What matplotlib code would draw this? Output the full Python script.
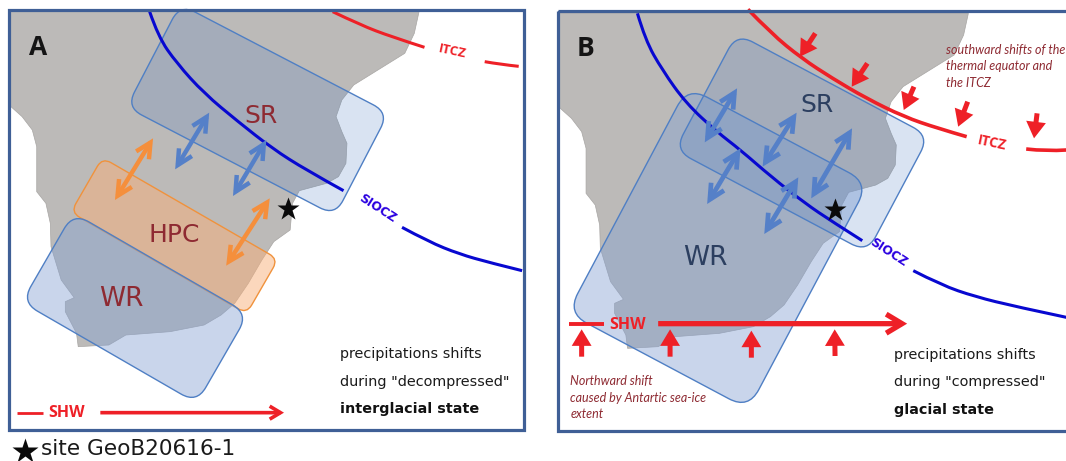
"""Two panel schematic of precipitation shifts over southern Africa (A interglacial, B glacial)."""
import matplotlib
matplotlib.use("Agg")
import matplotlib.pyplot as plt
from matplotlib.patches import FancyBboxPatch, FancyArrowPatch, PathPatch, Polygon, Rectangle
from matplotlib.path import Path
from matplotlib.transforms import Affine2D

LAND_X = [30, 1232, 1218, 1190, 1040, 1005, 988, 1005, 1020, 1017, 995, 960, 880, 860, 853, 805, 770, 730,
          690, 650, 600, 500, 370, 320, 230, 225, 192, 192, 218, 180, 150, 148, 135, 108, 108, 95, 65, 30]
LAND_Y = [35, 35, 100, 160, 255, 300, 350, 395, 430, 490, 530, 550, 572, 610, 690, 725, 780, 850,
          910, 945, 975, 995, 1005, 1035, 1040, 1000, 935, 905, 893, 840, 740, 670, 610, 575, 440, 390, 350, 318]

SIOCZ_A = [[(440, 35), (465, 110), (520, 190), (600, 280), (700, 365), (800, 445), (900, 510), (1010, 572)],
           [(1182, 682), (1260, 725), (1350, 762), (1440, 788), (1535, 812)]]
ITCZ_A = [[(978, 35), (1060, 75), (1150, 110), (1248, 142)],
          [(1425, 185), (1470, 193), (1525, 199)]]
SIOCZ_B = [[(307, 40), (330, 120), (380, 210), (450, 310), (540, 395), (610, 450), (700, 530), (800, 610),
            (880, 665), (968, 722)],
           [(1118, 812), (1200, 855), (1300, 890), (1420, 920), (1568, 952)]]
ITCZ_B = [[(632, 28), (700, 100), (790, 175), (880, 235), (980, 295), (1090, 350), (1190, 385), (1275, 410)],
          [(1450, 447), (1510, 454), (1568, 450)]]

BLUE_ARROWS_A = [((615, 338), (515, 508)), ((783, 420), (685, 588))]
ORANGE_ARROWS_A = [((450, 415), (338, 600)), ((793, 595), (665, 797))]
BLUE_ARROWS_B = [((600, 265), (505, 427)), ((775, 338), (675, 500)), ((938, 385), (818, 595)),
                 ((610, 445), (512, 612)), ((780, 532), (680, 702))]
DOWN_ARROWS_B = [((830, 100), (785, 170)), ((983, 190), (937, 260)), ((1120, 260), (1090, 330)),
                 ((1278, 305), (1250, 380)), ((1482, 340), (1473, 415))]
UP_ARROWS_B = [((143, 1070), (143, 988)), ((403, 1070), (403, 988)), ((642, 1073), (642, 992)),
               ((888, 1068), (887, 988))]

LAND_C = "#bcbab8"
WR_FACE, SR_FACE, BOX_EDGE = "#84a1d3", "#4c7cc3", "#4f7fc4"
HPC_FACE, HPC_EDGE = "#f8b07a", "#f0923c"
ARROW_BLUE, ARROW_ORANGE = "#5580c8", "#f58f3c"
RED, NAVY = "#ee2027", "#0808d0"
DARK_RED, SLATE = "#8e2a32", "#2c3f60"
FRAME_C = "#3f5f96"

B_SHIFT = 533
SX, SY = 2.94, 3.0


def to_px(pt, off=0):
    return (off + pt[0]/SX, pt[1]/SY)


fig = plt.figure(figsize=(10.66, 4.61), dpi=100)
ax = fig.add_axes([0, 0, 1, 1])
ax.set_xlim(0, 1066)
ax.set_ylim(461, 0)
ax.axis("off")


def rbox(cx, cy, w, h, angle, r, face, edge, alpha=0.44, z=3):
    tr = Affine2D().rotate_deg(angle).translate(cx, cy) + ax.transData
    ax.add_patch(FancyBboxPatch((-w/2, -h/2), w, h, boxstyle=f"round,pad=0,rounding_size={r}",
                                fc=(*matplotlib.colors.to_rgb(face), alpha), ec=edge, lw=1.0,
                                transform=tr, zorder=z))


def curve(segments, off, color, lw=2.2):
    # quadratic spline through the midpoints, so the fronts do not look kinked
    for seg in segments:
        p = [to_px(q, off) for q in seg]
        verts, codes = [p[0]], [Path.MOVETO]
        for i in range(1, len(p) - 1):
            end = p[i+1] if i == len(p) - 2 else ((p[i][0]+p[i+1][0])/2, (p[i][1]+p[i+1][1])/2)
            verts += [p[i], end]
            codes += [Path.CURVE3, Path.CURVE3]
        if len(p) == 2:
            verts.append(p[1])
            codes.append(Path.LINETO)
        ax.add_patch(PathPatch(Path(verts, codes), fc="none", ec=color, lw=lw, capstyle="butt", zorder=6))


def arrow(a, b, off, color, style, lw, scale=1.0, z=7):
    ax.add_patch(FancyArrowPatch(to_px(a, off), to_px(b, off), arrowstyle=style, color=color, lw=lw,
                                 mutation_scale=scale, shrinkA=0, shrinkB=0, joinstyle="miter",
                                 capstyle="butt", zorder=z))


def label(pt, s, off=0, **kw):
    x, y = to_px(pt, off)
    kw.setdefault("ha", "center")
    kw.setdefault("va", "center")
    ax.text(x, y, s, zorder=9, **kw)


DOUBLE = "<->,head_length=0.72,head_width=0.36"
SINGLE = "-|>,head_length=0.6,head_width=0.36"
SHW_HEAD = "->,head_length=0.6,head_width=0.36"

# ---- panel A ----
ax.add_patch(Polygon([to_px(p) for p in zip(LAND_X, LAND_Y)], fc=LAND_C, ec="#a8a6a4", lw=0.5, zorder=1))
rbox(174.5, 235.7, 203, 63, 30, 10, HPC_FACE, HPC_EDGE, alpha=0.5, z=3)
rbox(135, 308, 202, 103, 30, 18, WR_FACE, BOX_EDGE, z=4)
rbox(257.6, 110, 235, 116, 27.5, 17, SR_FACE, BOX_EDGE, alpha=0.21, z=4)
curve(SIOCZ_A, 0, NAVY)
curve(ITCZ_A, 0, RED)
for a, b in BLUE_ARROWS_A:
    arrow(a, b, 0, ARROW_BLUE, DOUBLE, 3.2, 15)
for a, b in ORANGE_ARROWS_A:
    arrow(a, b, 0, ARROW_ORANGE, DOUBLE, 3.2, 15)
curve([[(50, 1238), (125, 1238)]], 0, RED, 2.0)
arrow((295, 1238), (835, 1238), 0, RED, SHW_HEAD, 2.6, 13)
label((195, 1240), "SHW", color=RED, fontsize=11.5, fontweight="bold", family="Open Sans")
label((1330, 155), "ITCZ", color=RED, fontsize=9.5, fontweight="bold", rotation=-12, family="Open Sans")
label((1110, 625), "SIOCZ", color="#2a00e0", fontsize=8.8, rotation=-33, family="DejaVu Sans", fontweight="bold")
label((113, 142), "A", color="#141414", fontsize=19, fontweight="bold", family="Open Sans")
label((767, 347), "SR", color=DARK_RED, fontsize=18, family="DejaVu Sans")
label((511, 704), "HPC", color=DARK_RED, fontsize=18, family="DejaVu Sans")
label((358, 898), "WR", color=DARK_RED, fontsize=19, family="DejaVu Sans")
ax.plot(*to_px((846, 627)), marker="*", ms=17, color="#0a0a0a", mec="none", zorder=8)
label((1000, 1062), "precipitations shifts", ha="left", fontsize=10.4, color="#1a1a1a")
label((1000, 1145), 'during "decompressed"', ha="left", fontsize=10.4, color="#1a1a1a")
label((1000, 1227), "interglacial state", ha="left", fontsize=10.4, fontweight="bold", color="#111111")
ax.add_patch(Rectangle((9, 10), 515, 420, fc="none", ec=FRAME_C, lw=2.3, zorder=10))

# ---- panel B ----
ax.add_patch(Polygon([to_px((x + 48, y + 5), B_SHIFT) for x, y in zip(LAND_X, LAND_Y)],
                     fc=LAND_C, ec="#a8a6a4", lw=0.5, zorder=1))
rbox(718, 248, 205, 256, 28, 22, WR_FACE, BOX_EDGE, z=3)
rbox(802, 143, 218, 132, 28, 18, SR_FACE, BOX_EDGE, alpha=0.21, z=4)
curve(SIOCZ_B, B_SHIFT, NAVY)
curve(ITCZ_B, B_SHIFT, RED, 2.6)
for a, b in BLUE_ARROWS_B:
    arrow(a, b, B_SHIFT, ARROW_BLUE, DOUBLE, 3.4, 15)
for a, b in DOWN_ARROWS_B + UP_ARROWS_B:
    arrow(a, b, B_SHIFT, RED, SINGLE, 3.6, 11)
curve([[(106, 971), (208, 971)]], B_SHIFT, RED, 2.8)
arrow((368, 971), (1100, 971), B_SHIFT, RED, SHW_HEAD, 3.8, 19)
label((278, 975), "SHW", B_SHIFT, color=RED, fontsize=11.5, fontweight="bold", family="Open Sans")
label((1350, 430), "ITCZ", B_SHIFT, color=RED, fontsize=10, fontweight="bold", rotation=-12, family="Open Sans")
label((1045, 757), "SIOCZ", B_SHIFT, color="#2a00e0", fontsize=8.8, rotation=-33, family="DejaVu Sans",
      fontweight="bold")
label((155, 147), "B", B_SHIFT, color="#141414", fontsize=19, fontweight="bold", family="Open Sans")
label((835, 315), "SR", B_SHIFT, color=SLATE, fontsize=18, family="DejaVu Sans")
label((508, 773), "WR", B_SHIFT, color=SLATE, fontsize=19, family="DejaVu Sans")
ax.plot(*to_px((888, 630), B_SHIFT), marker="*", ms=17, color="#0a0a0a", mec="none", zorder=8)
label((1060, 1065), "precipitations shifts", B_SHIFT, ha="left", fontsize=10.4, color="#1a1a1a")
label((1060, 1146), 'during "compressed"', B_SHIFT, ha="left", fontsize=10.4, color="#1a1a1a")
label((1060, 1230), "glacial state", B_SHIFT, ha="left", fontsize=10.4, fontweight="bold", color="#111111")
for pt, s in [((1215, 150), "southward shifts of the"), ((1215, 198), "thermal equator and"), ((1215, 248), "the ITCZ"),
              ((110, 1142), "Northward shift"), ((110, 1193), "caused by Antartic sea-ice"), ((110, 1241), "extent")]:
    label(pt, s, B_SHIFT, ha="left", fontsize=9.0, style="italic", color=DARK_RED, family="Lato")
ax.add_patch(Rectangle((557.5, 11), 560, 420, fc="none", ec=FRAME_C, lw=2.3, zorder=10))

# ---- site key ----
ax.plot(*to_px((73, 1352)), marker="*", ms=19, color="#0a0a0a", mec="none", clip_on=False)
label((120, 1348), "site GeoB20616-1", ha="left", fontsize=15.6, color="#1a1a1a")

fig.savefig("out.png", dpi=100)
